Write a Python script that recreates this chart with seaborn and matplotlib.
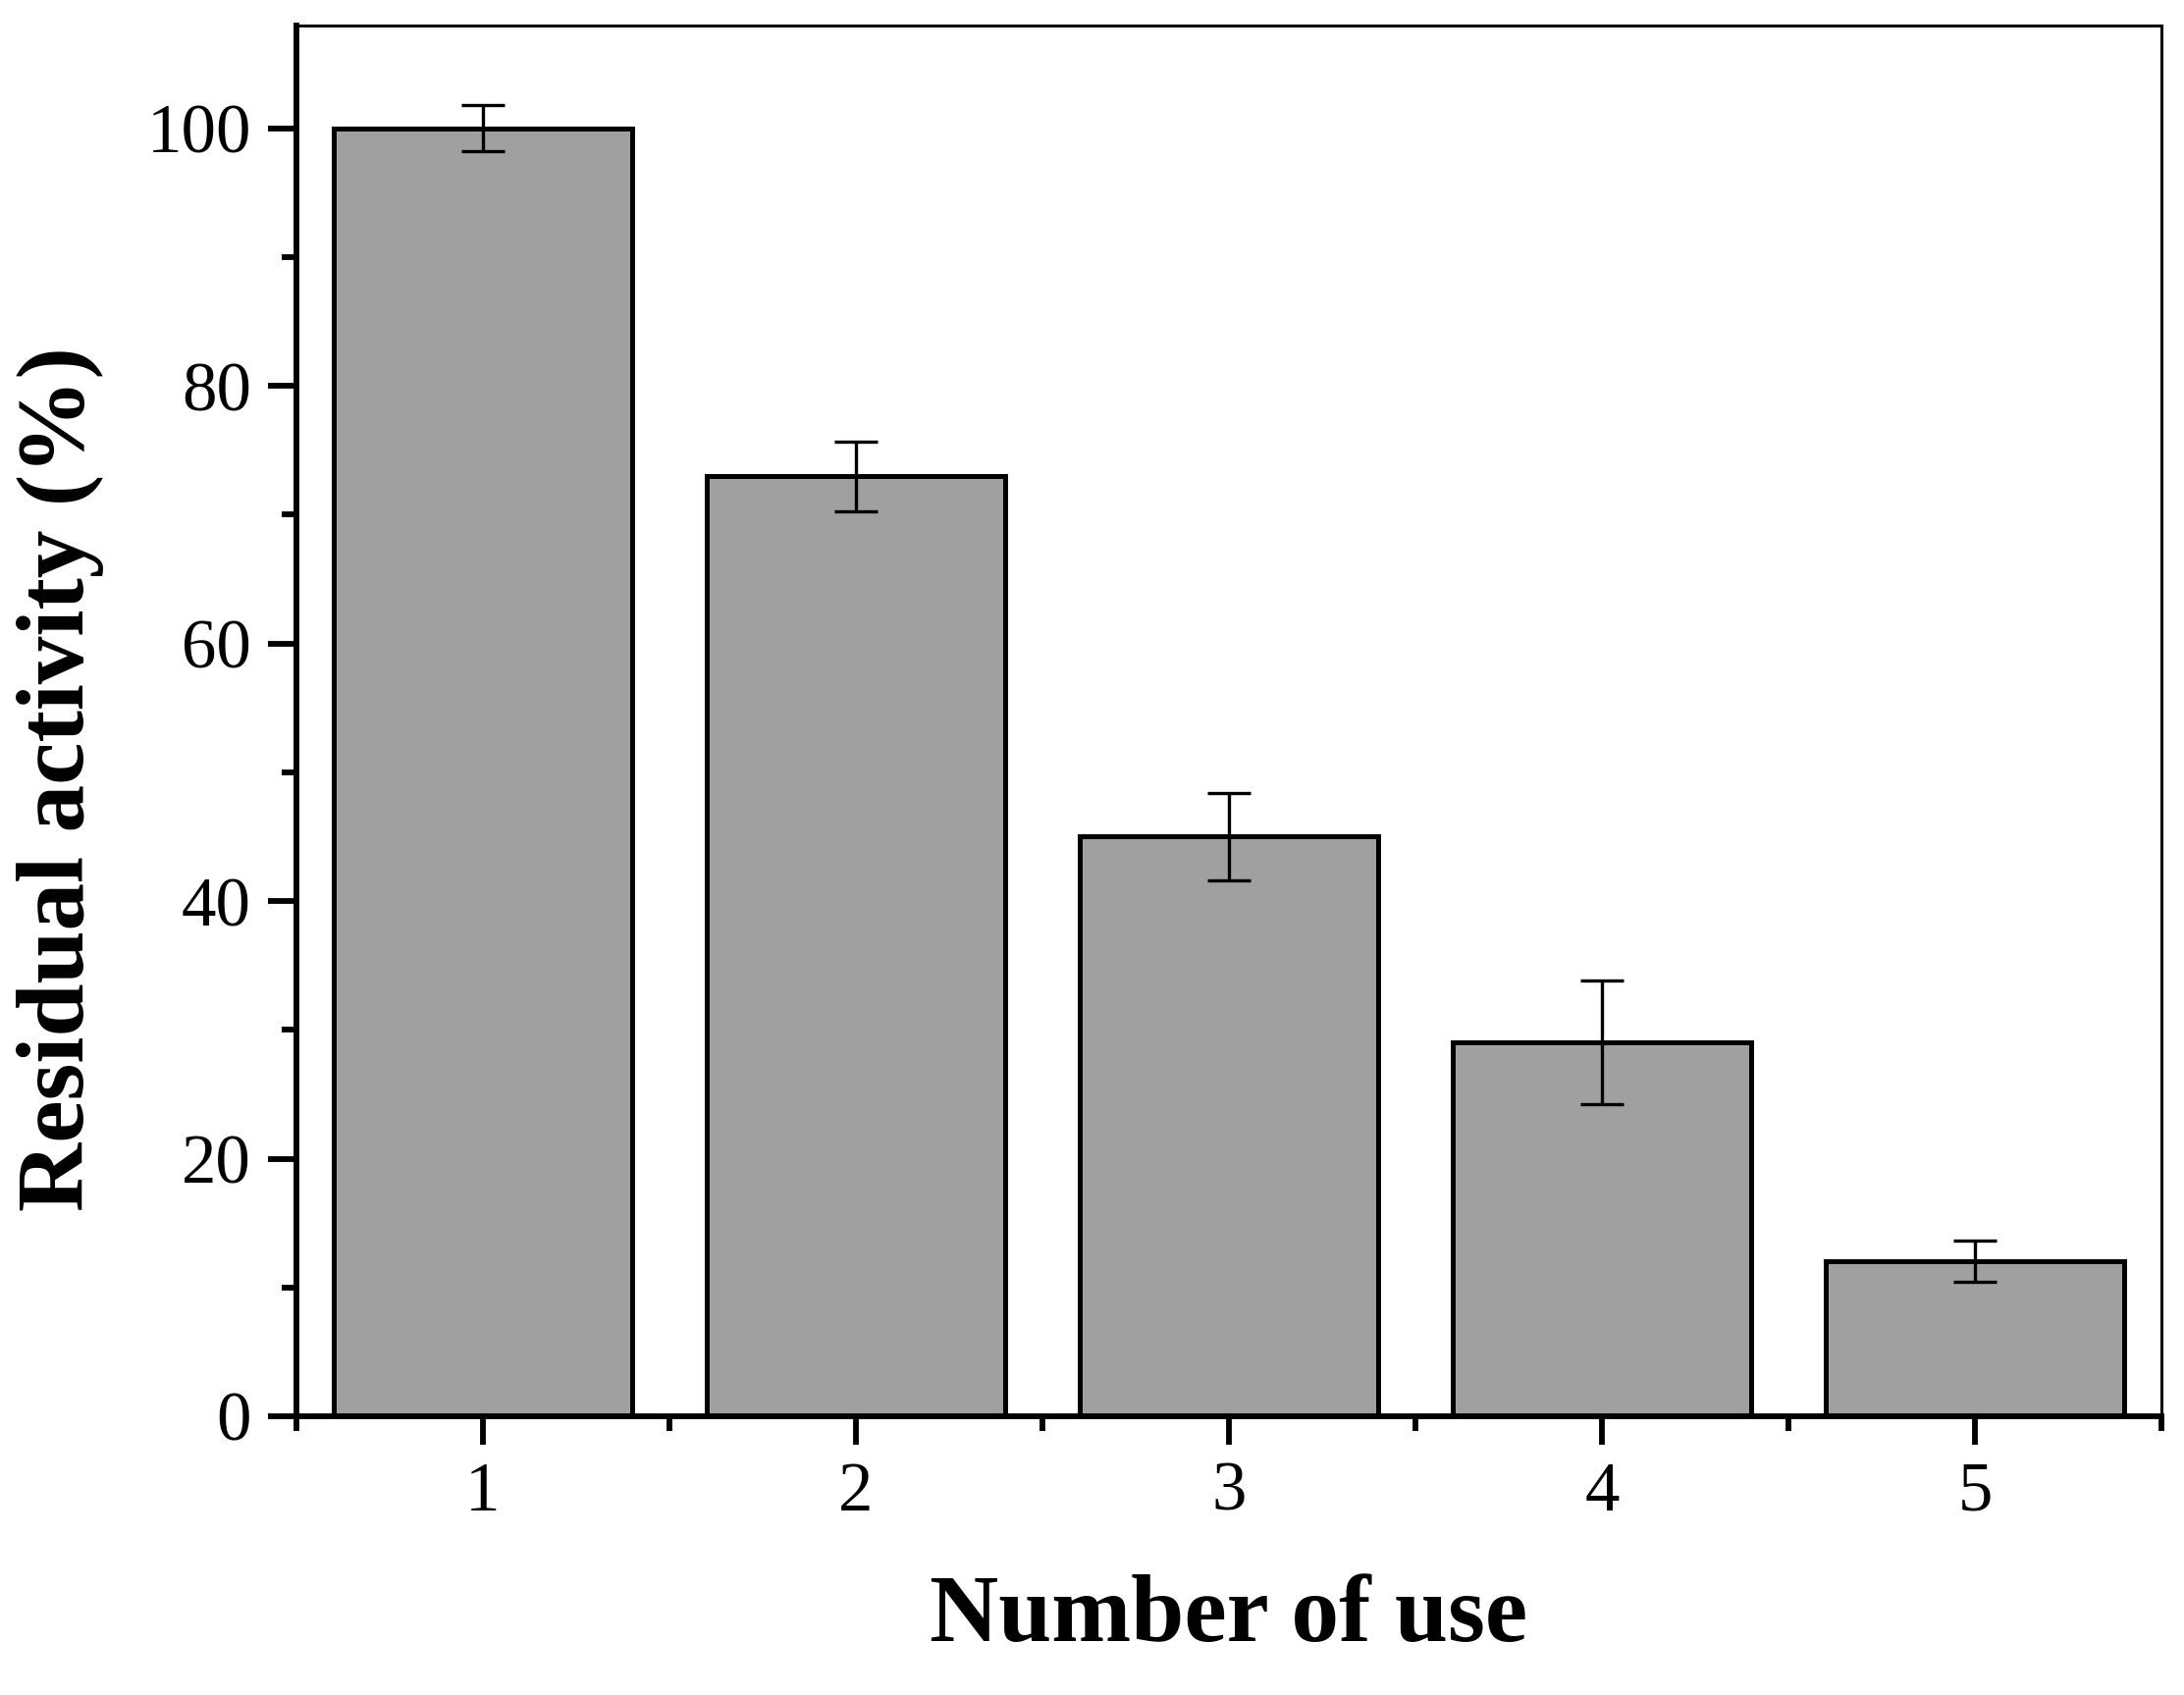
import matplotlib
matplotlib.use("Agg")
import matplotlib.pyplot as plt
from matplotlib.ticker import MultipleLocator
import seaborn as sns
import pandas as pd

uses = [1, 2, 3, 4, 5]
activity = [100.0, 73.0, 45.0, 29.0, 12.0]
error = [1.8, 2.7, 3.4, 4.8, 1.6]

if __name__ == "__main__":
    sns.set_theme(style="ticks")
    plt.rcParams["font.family"] = ["Liberation Serif", "DejaVu Serif"]
    data = pd.DataFrame({"use": uses, "activity": activity, "error": error})

    fig = plt.figure(figsize=(22.25, 17.27), dpi=100)
    ax = fig.add_axes([0.1357, 0.1645, 0.854, 0.8205])
    sns.barplot(
        ax=ax, x="use", y="activity", data=data, native_scale=True,
        color="#a0a0a0", saturation=1, width=0.8, errorbar=None,
        edgecolor="black", linewidth=3.6,
    )
    ax.errorbar(
        data["use"], data["activity"], yerr=data["error"], fmt="none",
        ecolor="black", elinewidth=2.4, capsize=16, capthick=2.4, zorder=5,
    )

    ax.set_xlim(0.5, 5.5)
    ax.set_ylim(0, 108)
    ax.xaxis.set_major_locator(MultipleLocator(1))
    ax.xaxis.set_minor_locator(MultipleLocator(0.5))
    ax.yaxis.set_major_locator(MultipleLocator(20))
    ax.yaxis.set_minor_locator(MultipleLocator(10))
    ax.set_xticks(uses)
    ax.set_xticklabels([str(u) for u in uses])

    for side in ["left", "bottom"]:
        ax.spines[side].set_linewidth(4.2)
        ax.spines[side].set_color("black")
    for side in ["top", "right"]:
        ax.spines[side].set_visible(True)
        ax.spines[side].set_linewidth(2.2)
        ax.spines[side].set_color("black")
    ax.tick_params(which="major", direction="out", length=21, width=4.2,
                   labelsize=51, pad=12, color="black", labelcolor="black")
    ax.tick_params(which="minor", direction="out", length=11, width=4.2,
                   color="black")
    ax.tick_params(top=False, right=False, which="both")

    ax.set_xlabel("Number of use", fontsize=70, fontweight="bold",
                  color="black", labelpad=36)
    ax.set_ylabel("Residual activity (%)", fontsize=70, fontweight="bold",
                  color="black")
    ax.yaxis.set_label_coords(-0.103, 0.458)
    plt.savefig("out.png", dpi=100)
